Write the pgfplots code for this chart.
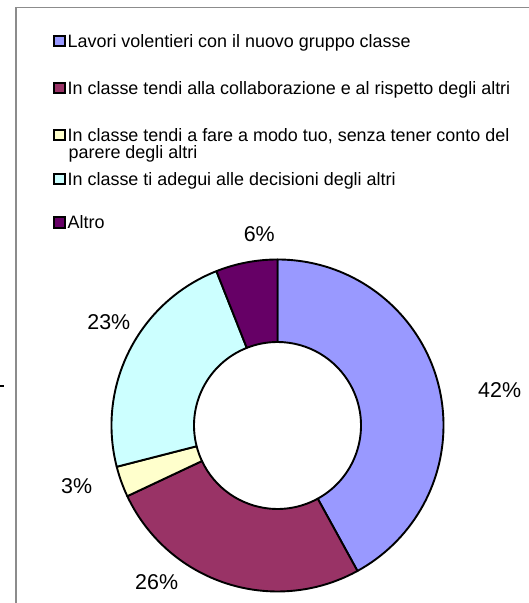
\documentclass[border=0pt]{standalone}
\usepackage{fontspec}
\setmainfont{Liberation Sans}
\usepackage{pgfplots}
\usepackage{pgfplotstable}
\pgfplotsset{compat=1.18}

\definecolor{c1}{HTML}{9999FF}
\definecolor{c2}{HTML}{993366}
\definecolor{c3}{HTML}{FFFFCC}
\definecolor{c4}{HTML}{CCFFFF}
\definecolor{c5}{HTML}{660066}
\definecolor{framegray}{HTML}{8C8C8C}

% share (%), fill colour, label position (axis units, outer radius = 1)
\pgfplotstableread{
value fillc lx ly
42 c1 1.338 0.214
26 c2 -0.728 -0.941
3 c3 -1.210 -0.367
23 c4 -1.016 0.625
6 c5 -0.110 1.151
}\donut

\begin{document}
\begin{tikzpicture}[x=1bp,y=1bp]
\useasboundingbox (0,0) rectangle (529,603);
% chart area frame (cropped)
\draw[framegray, line width=1.3bp] (16,0) -- (16,595.7) -- (529,595.7);
\fill[black] (0,216) rectangle (4,218);

\begin{axis}[
    at={(0,0)}, anchor=south west,
    width=529bp, height=603bp, scale only axis,
    xmin=-1.6717, xmax=1.5151,
    ymin=-1.0693, ymax=2.5633,
    hide axis, clip=false,
]
    \def\startang{90}
    \pgfplotsforeachungrouped \i in {0,...,4}{
        \pgfplotstablegetelem{\i}{value}\of\donut \let\val\pgfplotsretval
        \pgfplotstablegetelem{\i}{fillc}\of\donut \let\col\pgfplotsretval
        \pgfmathsetmacro\endang{\startang-3.6*\val}
        \pgfmathsetmacro\xa{cos(\startang)}
        \pgfmathsetmacro\ya{sin(\startang)}
        \pgfmathsetmacro\xb{0.503*cos(\endang)}
        \pgfmathsetmacro\yb{0.503*sin(\endang)}
        \edef\temp{\noexpand\filldraw[fill=\col, draw=black, line width=1.9bp, line join=round]
            (axis cs:\xa,\ya) arc[start angle=\startang, end angle=\endang, radius=1]
            -- (axis cs:\xb,\yb) arc[start angle=\endang, end angle=\startang, radius=0.503] -- cycle;}
        \temp
        \let\startang\endang
    }
    \addplot[draw=none, mark=none, point meta=explicit,
        nodes near coords={\pgfmathprintnumber[assume math mode=true]{\pgfplotspointmeta}\%},
        nodes near coords style={anchor=center, inner sep=0pt, font=\fontsize{21.5}{24}\selectfont, text=black}]
        table[x=lx, y=ly, meta=value] {\donut};
\end{axis}

% legend
\tikzset{lsq/.style={draw=black, line width=2bp, minimum size=10.5bp, inner sep=0pt},
         ltx/.style={anchor=base west, inner sep=0pt, font=\fontsize{18}{20}\selectfont}}
\node[lsq, fill=c1] at (59.5,603-41) {};
\node[ltx] at (67.5,603-41-6.2) {Lavori volentieri con il nuovo gruppo classe};
\node[lsq, fill=c2] at (59.5,603-88) {};
\node[ltx] at (67.5,603-88-6.2) {In classe tendi alla collaborazione e al rispetto degli altri};
\node[lsq, fill=c3] at (59.5,603-135) {};
\node[ltx] at (67.5,603-135-6.2) {In classe tendi a fare a modo tuo, senza tener conto del};
\node[ltx] at (68.5,603-152.7-6.2) {parere degli altri};
\node[lsq, fill=c4] at (59.5,603-179) {};
\node[ltx] at (67.5,603-179-6.2) {In classe ti adegui alle decisioni degli altri};
\node[lsq, fill=c5] at (59.5,603-222.5) {};
\node[ltx] at (67.5,603-222.5-6.2) {Altro};
\end{tikzpicture}
\end{document}
